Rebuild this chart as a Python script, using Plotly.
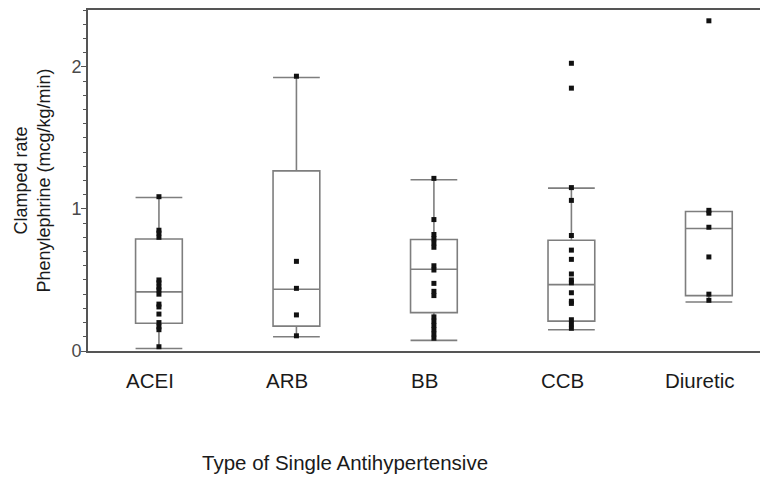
import plotly.graph_objects as go

categories = ["ACEI", "ARB", "BB", "CCB", "Diuretic"]

# box statistics
q1 = [0.195, 0.175, 0.27, 0.21, 0.39]
median = [0.416, 0.435, 0.575, 0.467, 0.862]
q3 = [0.788, 1.268, 0.785, 0.780, 0.982]
lowerfence = [0.018, 0.100, 0.075, 0.150, 0.345]
upperfence = [1.080, 1.925, 1.205, 1.146, 0.982]

# individual observations
acei_pts = [1.086, 0.85, 0.83, 0.80, 0.50, 0.48, 0.45, 0.43, 0.40, 0.33, 0.31, 0.26, 0.20, 0.17, 0.15, 0.03]
arb_pts = [1.934, 0.631, 0.441, 0.254, 0.107]
bb_pts = [1.215, 0.925, 0.82, 0.79, 0.76, 0.73, 0.60, 0.57, 0.476, 0.42, 0.39,
          0.24, 0.21, 0.18, 0.15, 0.12, 0.09]
ccb_pts = [2.025, 1.85, 1.15, 1.06, 0.813, 0.71, 0.645, 0.542, 0.50, 0.48, 0.41,
           0.35, 0.335, 0.22, 0.19, 0.16]
diuretic_pts = [2.324, 0.99, 0.97, 0.871, 0.662, 0.40, 0.357]

all_pts = [acei_pts, arb_pts, bb_pts, ccb_pts, diuretic_pts]

px, py = [], []
for c, vals in zip(categories, all_pts):
    for v in vals:
        px.append(c)
        py.append(v)

fig = go.Figure()
fig.add_trace(go.Box(
    x=categories, q1=q1, median=median, q3=q3,
    lowerfence=lowerfence, upperfence=upperfence,
    boxpoints=False, width=0.34, whiskerwidth=1,
    fillcolor="rgba(0,0,0,0)",
    line=dict(color="#7e7e7e", width=1.6),
    showlegend=False, hoverinfo="skip",
))
fig.add_trace(go.Scatter(
    x=px, y=py, mode="markers",
    marker=dict(symbol="square", size=5, color="#111111"),
    showlegend=False,
))

annotations = [dict(
    text="Type of Single Antihypertensive",
    xref="paper", yref="paper", x=(345 - 88) / 680, y=(351 - 463) / 343,
    xanchor="center", yanchor="middle", showarrow=False,
    font=dict(size=20.5, color="#1a1a1a"),
)]
# category labels (drawn slightly left of box centres, as in the original)
for c in categories:
    annotations.append(dict(
        text=c, xref="x", yref="paper", x=c, y=(351 - 381) / 343,
        xanchor="center", yanchor="middle", showarrow=False, xshift=-9,
        font=dict(size=20.5, color="#1a1a1a"),
    ))

fig.update_layout(
    width=760, height=475,
    margin=dict(l=80, r=0, t=0, b=132),
    paper_bgcolor="white", plot_bgcolor="white",
    font=dict(family="Liberation Sans, Arial, sans-serif", size=16, color="#222222"),
    annotations=annotations,
)
fig.update_xaxes(
    type="category", categoryorder="array", categoryarray=categories,
    range=[-0.516, 4.43],
    showline=True, linecolor="#555555", linewidth=2, mirror=True,
    ticks="", showgrid=False, zeroline=False, showticklabels=False,
)
fig.update_yaxes(
    range=[0, 2.40],
    tickvals=[0, 1, 2], ticktext=["0", "1", "2"],
    ticks="outside", ticklen=5, tickcolor="#555555", tickwidth=1,
    minor=dict(dtick=0.1, tick0=0, ticks="outside", ticklen=3, tickcolor="#555555"),
    showline=True, linecolor="#555555", linewidth=2,
    showgrid=False, zeroline=False,
    ticklabelstandoff=-4,
    tickfont=dict(size=18, color="#4a4a4a"),
    title=dict(text="Clamped rate<br>Phenylephrine (mcg/kg/min)",
               font=dict(size=18, color="#1a1a1a"), standoff=16),
)

fig.write_html("out.html")
